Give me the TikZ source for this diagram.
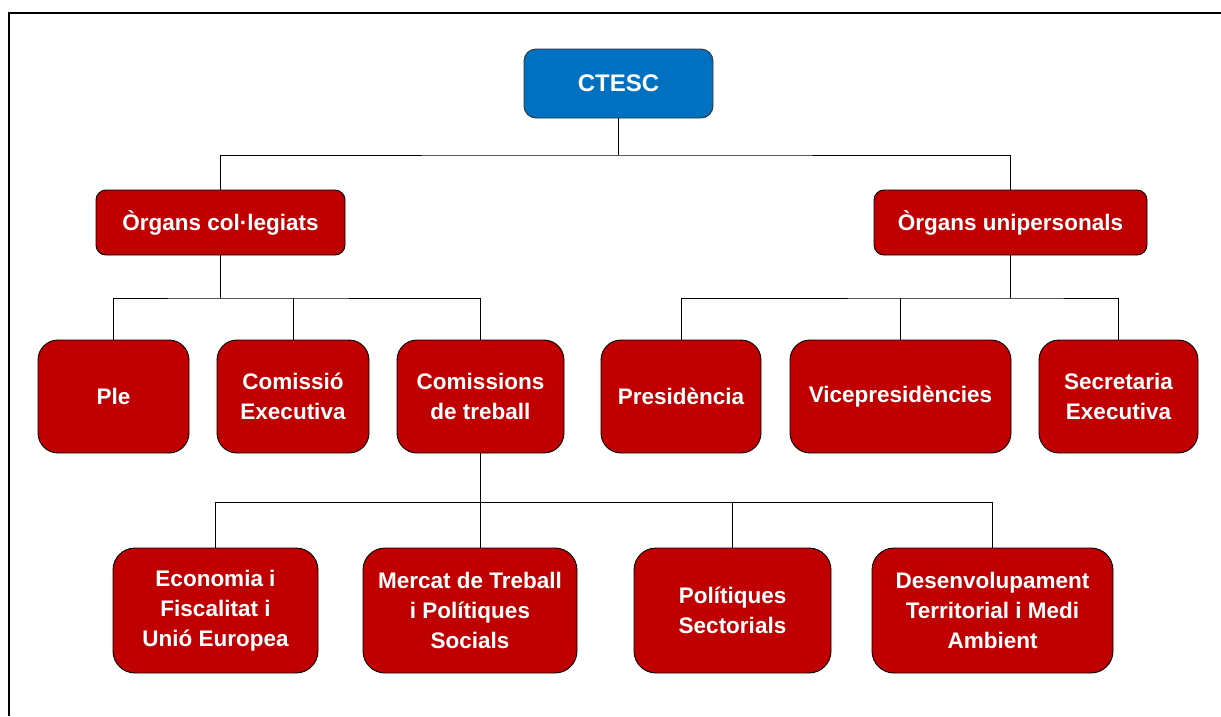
\documentclass[tikz,border=0pt]{standalone}
\usepackage{fontspec}
\setmainfont{Liberation Sans}
\definecolor{boxred}{HTML}{C00000}
\definecolor{boxblue}{HTML}{0070C0}
\tikzset{
  orgbox/.style={draw=black, line width=0.9pt, fill=boxred, text=white, align=center,
    inner sep=0pt, font=\bfseries\fontsize{22.5}{30}\selectfont},
  toplevel/.style={orgbox, fill=boxblue, draw=black!80, rounded corners=12pt, minimum height=69pt,
    font=\bfseries\fontsize{24}{30}\selectfont},
  midlevel/.style={orgbox, rounded corners=10pt, minimum height=65pt},
  rowbox/.style={orgbox, rounded corners=20pt, minimum height=113pt},
  lowbox/.style={orgbox, rounded corners=22pt, minimum height=125pt},
  conn/.style={draw=black, line width=0.9pt},
}
\begin{document}
\begin{tikzpicture}[x=1pt,y=-1pt]
\useasboundingbox (0,0) rectangle (1221,716);
% frame
\draw[line width=2pt] (9,716) -- (9,13) -- (1221,13);
% nodes
\node[toplevel, minimum width=189pt] (ctesc) at (618.5,83.5) {CTESC};
\node[midlevel, minimum width=249pt] (col) at (220.5,222.5) {Òrgans col·legiats};
\node[midlevel, minimum width=273pt] (uni) at (1010.5,222.5) {Òrgans unipersonals};
\node[rowbox, minimum width=151pt] (ple) at (113.5,396.5) {Ple};
\node[rowbox, minimum width=152pt] (comex) at (293,396.5) {Comissió\\Executiva};
\node[rowbox, minimum width=167pt] (comtr) at (480.5,396.5) {Comissions\\de treball};
\node[rowbox, minimum width=160pt] (pres) at (681,396.5) {Presidència};
\node[rowbox, minimum width=221pt] (vice) at (900.5,396.5) {Vicepresidències};
\node[rowbox, minimum width=159pt] (secr) at (1118.5,396.5) {Secretaria\\Executiva};
\node[lowbox, minimum width=205pt] (eco) at (215.5,610.5) {Economia i\\Fiscalitat i\\Unió Europea};
\node[lowbox, minimum width=214pt] (merc) at (470,610.5) {Mercat de Treball\\i Polítiques\\Socials};
\node[lowbox, minimum width=197pt] (pol) at (732.5,610.5) {Polítiques\\Sectorials};
\node[lowbox, minimum width=241pt] (des) at (992.5,610.5) {Desenvolupament\\Territorial i Medi\\Ambient};
% junctions
\coordinate (j1) at (618.5,155);
\coordinate (j2) at (220.5,298);
\coordinate (j3) at (1010.5,298);
\coordinate (j4) at (480.5,502);
% connectors
\draw[conn] (ctesc.south) -- (j1);
\draw[conn] (col.north) |- (j1) -| (uni.north);
\draw[conn] (col.south) -- (j2);
\draw[conn] (ple.north) |- (j2) -| (comtr.north);
\draw[conn] (comex.north) -- (comex.north |- j2);
\draw[conn] (uni.south) -- (j3);
\draw[conn] (pres.north) |- (j3) -| (secr.north);
\draw[conn] (vice.north) -- (vice.north |- j3);
\draw[conn] (comtr.south) -- (comtr.south |- merc.north);
\draw[conn] (eco.north) |- (j4) -| (des.north);
\draw[conn] (pol.north) -- (pol.north |- j4);
\end{tikzpicture}
\end{document}
